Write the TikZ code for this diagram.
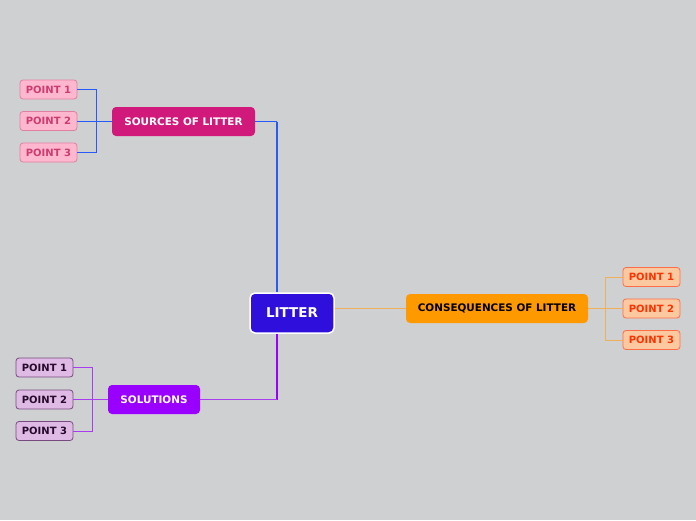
\documentclass[tikz,border=0pt]{standalone}
\usepackage{fontspec}
\setmainfont{DejaVu Sans}
\usetikzlibrary{positioning}
\definecolor{bggray}{RGB}{207,208,210}
\definecolor{rootblue}{RGB}{46,15,220}
\definecolor{srcpink}{RGB}{208,25,122}
\definecolor{srcline}{RGB}{40,90,250}
\definecolor{srcleaf}{RGB}{255,182,207}
\definecolor{srcleafline}{RGB}{224,128,160}
\definecolor{srcleaftext}{RGB}{205,60,110}
\definecolor{conorange}{RGB}{255,153,0}
\definecolor{conline}{RGB}{240,175,90}
\definecolor{conleaf}{RGB}{252,200,160}
\definecolor{conleafline}{RGB}{255,110,70}
\definecolor{conleaftext}{RGB}{255,50,0}
\definecolor{solviolet}{RGB}{153,0,255}
\definecolor{solline}{RGB}{170,60,240}
\definecolor{solleaf}{RGB}{222,186,228}
\definecolor{solleafline}{RGB}{120,75,128}
\definecolor{solleaftext}{RGB}{40,10,45}

\tikzset{
  topic/.style={rounded corners=4pt, font=\fontsize{10.4}{12}\selectfont\bfseries,
    minimum height=29pt, inner xsep=2pt},
  leaf/.style={rounded corners=3pt, draw, line width=0.8pt,
    font=\fontsize{10}{12}\selectfont\bfseries, minimum height=19pt, minimum width=57pt, inner xsep=2pt},
  link/.style={line width=0.8pt},
}

\begin{document}
\begin{tikzpicture}[x=1pt,y=-1pt]
\fill[bggray] (0,0) rectangle (696,520);
% central topic
\node[draw=white, line width=1.5pt, fill=rootblue, text=white, rounded corners=5pt,
  font=\fontsize{13.5}{16}\selectfont\bfseries, minimum width=84pt, minimum height=40pt] (litter) at (292,313) {LITTER};
% main branches
\node[topic, fill=srcpink, text=white, minimum width=143pt] (sources) at (183.5,121.5) {SOURCES OF LITTER};
\node[topic, fill=conorange, text=black, minimum width=182pt] (conseq) at (497,308.5) {CONSEQUENCES OF LITTER};
\node[topic, fill=solviolet, text=white, minimum width=92pt] (solutions) at (154,399.5) {SOLUTIONS};
% leaves
\node[leaf, fill=srcleaf, draw=srcleafline, text=srcleaftext] (s1) at (48.5,89.5) {POINT 1};
\node[leaf, fill=srcleaf, draw=srcleafline, text=srcleaftext] (s2) at (48.5,121) {POINT 2};
\node[leaf, fill=srcleaf, draw=srcleafline, text=srcleaftext] (s3) at (48.5,152.5) {POINT 3};
\node[leaf, fill=conleaf, draw=conleafline, text=conleaftext] (c1) at (651.5,277) {POINT 1};
\node[leaf, fill=conleaf, draw=conleafline, text=conleaftext] (c2) at (651.5,308.5) {POINT 2};
\node[leaf, fill=conleaf, draw=conleafline, text=conleaftext] (c3) at (651.5,340) {POINT 3};
\node[leaf, fill=solleaf, draw=solleafline, text=solleaftext] (p1) at (44.5,367.5) {POINT 1};
\node[leaf, fill=solleaf, draw=solleafline, text=solleaftext] (p2) at (44.5,399.5) {POINT 2};
\node[leaf, fill=solleaf, draw=solleafline, text=solleaftext] (p3) at (44.5,431) {POINT 3};
% bus points
\coordinate (sbus) at (96,121.5);
\coordinate (cbus) at (605,308.5);
\coordinate (pbus) at (92,399.5);
% root connectors
\draw[srcline, line width=2.5pt] (litter.north -| 277,0) -- (277,121.5);
\draw[srcline, link] (277,121.5) -- (sources.east);
\draw[conline, link] (conseq.west -| litter.east) -- (conseq.west);
\draw[solviolet, line width=2.5pt] (litter.south -| 277,0) -- (277,399.5);
\draw[solline, link] (277,399.5) -- (solutions.east);
% leaf connectors
\draw[srcline, link] (sources.west) -- (sbus);
\foreach \n in {s1,s2,s3} \draw[srcline, link] (sbus) |- (\n.east);
\draw[conline, link] (conseq.east) -- (cbus);
\foreach \n in {c1,c2,c3} \draw[conline, link] (cbus) |- (\n.west);
\draw[solline, link] (solutions.west) -- (pbus);
\foreach \n in {p1,p2,p3} \draw[solline, link] (pbus) |- (\n.east);
\end{tikzpicture}
\end{document}
